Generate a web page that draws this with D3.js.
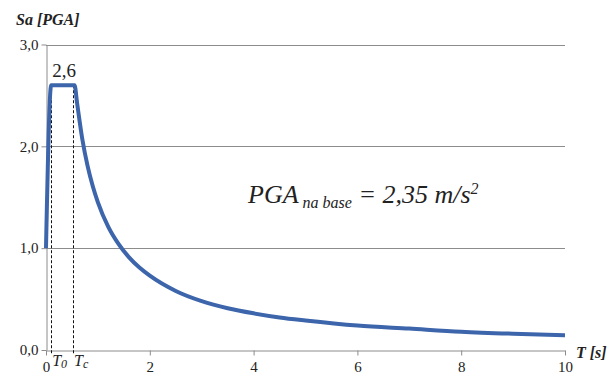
<!DOCTYPE html>
<html>
<head>
<meta charset="utf-8">
<script src="https://cdn.jsdelivr.net/npm/d3@7"></script>
<style>
  body { margin: 0; font-family: "Liberation Serif", serif; }
  svg text, svg tspan { font-family: "Liberation Serif", serif !important; }
</style>
</head>
<body>
<svg id="chart" width="611" height="380" font-family="Liberation Serif"></svg>
<script>
// Elastic response spectrum, Sa in units of PGA versus period T
const periodT = [0, 0.1, 0.55, 0.6, 0.7, 0.8, 0.9, 1.0, 1.2, 1.4, 1.6, 1.8, 2.0, 2.5, 3.0, 3.5, 4.0, 4.5, 5.0, 6.0, 7.0, 8.0, 9.0, 10.0];
const spectralSa = [1.0, 2.6, 2.6, 2.42, 2.07, 1.81, 1.61, 1.45, 1.21, 1.04, 0.91, 0.81, 0.73, 0.58, 0.48, 0.41, 0.36, 0.32, 0.29, 0.24, 0.21, 0.18, 0.16, 0.145];
const xTicks = [0, 2, 4, 6, 8, 10];
const yTicks = [0, 1, 2, 3];
const cornerPeriods = [{ T: 0.1, sub: "0" }, { T: 0.52, sub: "c" }];
const plateauLabel = "2,6";
const plateauValue = 2.6;

const svg = d3.select("#chart");
const x = d3.scaleLinear().domain([0, 10]).range([46, 565]);
const y = d3.scaleLinear().domain([0, 3]).range([350, 44.5]);
const fmt = d => d.toFixed(1).replace(".", ",");
const sized = (sel, size) => sel.attr("font-size", size).attr("fill", "#222");

// horizontal gridlines
svg.append("g").selectAll("line").data(yTicks.filter(d => d > 0)).join("line")
  .attr("x1", x(0)).attr("x2", x(10))
  .attr("y1", d => Math.round(y(d)) + 0.5).attr("y2", d => Math.round(y(d)) + 0.5)
  .attr("stroke", "#8c8c8c").attr("stroke-width", 1);

// y axis
const yAxis = svg.append("g").attr("transform", `translate(${x(0) + 0.5},0)`)
  .call(d3.axisLeft(y).tickValues(yTicks).tickFormat(fmt).tickSize(5).tickSizeOuter(0));
yAxis.attr("font-family", "Liberation Serif");
yAxis.select(".domain").attr("stroke", "#8c8c8c");
yAxis.selectAll(".tick line").attr("stroke", "#8c8c8c");
yAxis.selectAll(".tick text").attr("x", -8).call(sized, 15);

// x axis
const xAxis = svg.append("g").attr("transform", `translate(0,${Math.round(y(0)) + 0.5})`)
  .call(d3.axisBottom(x).tickValues(xTicks).tickFormat(d3.format("d")).tickSize(5).tickSizeOuter(0));
xAxis.attr("font-family", "Liberation Serif");
xAxis.select(".domain").attr("stroke", "#8c8c8c");
xAxis.selectAll(".tick line").attr("stroke", "#8c8c8c");
xAxis.selectAll(".tick text").attr("y", 11).call(sized, 15);

// corner period markers
const cp = svg.append("g");
cp.selectAll("line").data(cornerPeriods).join("line")
  .attr("x1", d => Math.round(x(d.T)) + 0.5).attr("x2", d => Math.round(x(d.T)) + 0.5)
  .attr("y1", y(plateauValue)).attr("y2", y(0) + 5)
  .attr("stroke", "#111").attr("stroke-width", 1).attr("stroke-dasharray", "3,2");
cp.selectAll("text").data(cornerPeriods).join("text")
  .attr("x", d => x(d.T) + 1).attr("y", 366)
  .call(sized, 16).attr("font-style", "italic")
  .each(function (d) {
    const t = d3.select(this);
    t.append("tspan").text("T");
    t.append("tspan").attr("font-size", 12).attr("dy", 2).text(d.sub);
  });

// spectrum curve
const line = d3.line().x((d, i) => x(periodT[i])).y(d => y(d)).curve(d3.curveMonotoneX);
svg.append("path").datum(spectralSa)
  .attr("d", line)
  .attr("fill", "none").attr("stroke", "#3c65ab").attr("stroke-width", 4)
  .attr("stroke-linejoin", "round");

// plateau value label
svg.append("text").attr("x", x(0.1) + 1).attr("y", 77)
  .call(sized, 19).text(plateauLabel);

// axis titles
svg.append("text").attr("x", 16).attr("y", 25)
  .call(sized, 16).attr("font-weight", "bold").attr("font-style", "italic")
  .text("Sa [PGA]");
svg.append("text").attr("x", 576).attr("y", 358)
  .call(sized, 16).attr("font-weight", "bold").attr("font-style", "italic")
  .text("T [s]");

// ground acceleration annotation
const ann = svg.append("text").attr("x", 248).attr("y", 203)
  .call(sized, 26).attr("font-style", "italic");
ann.append("tspan").text("PGA");
ann.append("tspan").attr("font-size", 16).attr("dy", 5).text(" na base");
ann.append("tspan").attr("dy", -5).text(" = 2,35 m/s");
ann.append("tspan").attr("font-size", 16).attr("dy", -9).text("2");
</script>
</body>
</html>
